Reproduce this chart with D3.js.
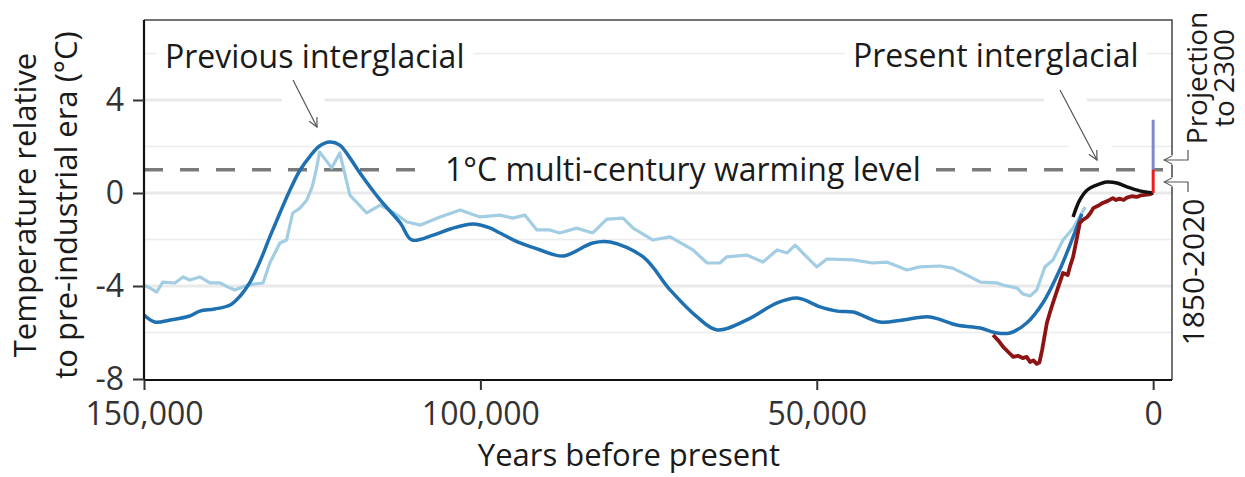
<!DOCTYPE html>
<html><head><meta charset="utf-8">
<script src="https://cdn.jsdelivr.net/npm/d3@7"></script>
<style>
html,body{margin:0;padding:0;background:#fff;}
svg{display:block;font-family:"Open Sans","Noto Sans",sans-serif;}
</style></head>
<body><svg id="c" width="1245" height="477"></svg>
<script>
// ---- data (years before present in thousands, temperature °C) ----
const blueKyr = [150.0,148.4,146.1,143.2,141.7,139.5,137.2,135.7,134.3,132.8,131.3,129.8,128.3,126.8,125.3,123.9,122.4,120.9,119.4,117.9,114.9,111.9,110.2,107.0,104.5,101.1,98.6,97.1,94.1,91.1,87.7,83.3,80.7,75.8,71.8,67.8,64.8,60.4,55.9,52.9,49.5,47.0,44.6,40.6,37.2,33.2,29.2,25.7,23.2,21.3,18.8,16.4,13.9,11.9,10.6];
const blueTemp = [-5.25,-5.55,-5.46,-5.29,-5.08,-4.99,-4.82,-4.43,-3.87,-2.97,-1.89,-0.86,0.13,0.99,1.59,2.02,2.19,2.06,1.51,0.86,-0.30,-1.29,-2.02,-1.81,-1.55,-1.33,-1.50,-1.72,-2.15,-2.45,-2.71,-2.15,-2.11,-2.75,-4.17,-5.33,-5.89,-5.46,-4.73,-4.52,-4.90,-5.08,-5.12,-5.55,-5.46,-5.33,-5.68,-5.81,-6.02,-6.02,-5.59,-4.73,-3.31,-1.89,-0.90];

const lightKyr = [150.0,149.1,148.1,147.2,145.4,144.2,143.2,141.7,140.2,138.7,137.2,136.5,135.0,133.5,132.3,131.3,129.8,128.8,127.9,126.8,125.8,125.0,124.4,123.9,122.1,120.9,119.4,116.9,114.9,113.0,110.9,108.9,106.0,103.0,100.1,97.1,95.2,93.4,91.6,89.7,88.2,85.7,83.3,81.2,78.8,77.3,74.4,71.8,68.4,66.3,64.4,63.4,60.4,58.0,55.9,54.4,53.2,51.5,50.0,48.5,44.6,41.7,39.6,36.6,34.7,31.7,29.8,27.7,25.7,23.2,22.3,20.2,19.4,18.3,17.3,16.1,14.9,13.4,11.9,10.1];
const lightTemp = [-3.96,-4.09,-4.26,-3.83,-3.87,-3.61,-3.74,-3.61,-3.87,-3.87,-4.09,-4.17,-4.00,-3.91,-3.87,-3.01,-2.15,-2.02,-0.86,-0.65,-0.30,0.26,0.99,1.76,1.08,1.72,-0.09,-0.86,-0.52,-0.82,-1.25,-1.38,-1.03,-0.73,-1.03,-0.95,-1.08,-0.95,-1.59,-1.59,-1.72,-1.51,-1.72,-1.12,-1.08,-1.51,-2.02,-1.89,-2.45,-3.01,-3.01,-2.75,-2.67,-2.97,-2.45,-2.58,-2.24,-2.75,-3.18,-2.84,-2.88,-3.01,-2.97,-3.31,-3.18,-3.14,-3.23,-3.53,-3.83,-3.87,-3.96,-4.09,-4.34,-4.43,-4.17,-3.18,-2.88,-2.02,-1.51,-0.60];

const redKyr = [23.8,23.0,22.3,21.5,20.8,20.1,19.4,18.8,18.3,17.8,17.3,16.9,16.5,15.8,15.3,14.9,14.4,13.9,13.4,12.7,12.3,11.9,11.3,10.9,10.4,9.8,9.3,8.9,8.2,7.5,6.8,6.0,5.5,5.0,4.4,3.9,3.2,2.4,1.8,1.2,0.6,0.0];
const redTemp = [-6.11,-6.35,-6.62,-6.85,-7.05,-7.00,-7.10,-7.05,-7.27,-7.20,-7.35,-7.28,-6.75,-5.59,-5.10,-4.73,-4.30,-3.87,-3.44,-3.53,-3.10,-2.75,-1.89,-1.29,-1.15,-1.03,-0.85,-0.65,-0.55,-0.43,-0.35,-0.22,-0.30,-0.24,-0.30,-0.20,-0.14,-0.17,-0.10,-0.08,-0.06,0.0];

const blackKyr = [11.9,10.9,9.8,8.4,6.9,5.4,3.9,2.0,0.0];
const blackTemp = [-1.03,-0.30,0.13,0.34,0.47,0.43,0.26,0.09,0.0];

const observedRange = [0, 1.0];     // 1850-2020
const projectionRange = [1.0, 3.15]; // projection to 2300
const warmingLevel = 1;

const yTicks = [4, 0, -4, -8];
const yMajorGrid = [4, 0, -4];
const yMinorGrid = [6, 2, -2, -6];
const xTicks = [150000, 100000, 50000, 0];

// ---- layout ----
const svg = d3.select("#c");
const L = 144, R = 1172, T = 20, B = 379;
const x = d3.scaleLinear().domain([150000, -2800]).range([L, R]);
const y = d3.scaleLinear().domain([-8, 7.44]).range([B, T]);

const toPts = (ks, ts) => ks.map((k, i) => [k * 1000, ts[i]]);

// gridlines
svg.append("g").selectAll("line").data(yMinorGrid).join("line")
  .attr("x1", L).attr("x2", R).attr("y1", d => y(d)).attr("y2", d => y(d))
  .attr("stroke", "#ececec").attr("stroke-width", 1.6);
svg.append("g").selectAll("line").data(yMajorGrid).join("line")
  .attr("x1", L).attr("x2", R).attr("y1", d => y(d)).attr("y2", d => y(d))
  .attr("stroke", "#e9e9e9").attr("stroke-width", 3);

// arrow halos (white) over gridlines
const arrows = [
  {x1: 293, y1: 80, x2: 317, y2: 127},
  {x1: 1060, y1: 90, x2: 1097, y2: 160}
];
svg.append("g").selectAll("line").data(arrows).join("line")
  .attr("x1", d => d.x1).attr("y1", d => d.y1).attr("x2", d => d.x2).attr("y2", d => d.y2)
  .attr("stroke", "#fff").attr("stroke-width", 38).attr("stroke-linecap", "butt");

// dashed warming level
svg.append("line")
  .attr("x1", L).attr("x2", 1163).attr("y1", y(warmingLevel)).attr("y2", y(warmingLevel))
  .attr("stroke", "#7a7a7a").attr("stroke-width", 3.5).attr("stroke-dasharray", "19,17");

// text boxes
function labelBox(tx, ty, text, size, pad) {
  const t = svg.append("text").attr("x", tx).attr("y", ty).attr("font-size", size)
    .attr("fill", "#1a1a1a").text(text);
  const bb = t.node().getBBox();
  svg.insert("rect", () => t.node())
    .attr("x", bb.x - pad).attr("y", bb.y + 2).attr("width", bb.width + 2 * pad).attr("height", bb.height - 4)
    .attr("fill", "#fff");
  return t;
}
labelBox(445, 181, "1°C multi-century warming level", 32, 13);
labelBox(165, 68, "Previous interglacial", 32, 9);
labelBox(853, 67, "Present interglacial", 32, 8);

// arrows
const defs = svg.append("defs");
defs.append("marker").attr("id", "ah").attr("viewBox", "0 0 10 10").attr("refX", 9).attr("refY", 5)
  .attr("markerWidth", 10).attr("markerHeight", 10).attr("markerUnits", "userSpaceOnUse").attr("orient", "auto")
  .append("path").attr("d", "M0,0.5 L9,5 L0,9.5").attr("fill", "none").attr("stroke", "#555").attr("stroke-width", 1.2);
svg.append("g").selectAll("line").data(arrows).join("line")
  .attr("x1", d => d.x1).attr("y1", d => d.y1).attr("x2", d => d.x2).attr("y2", d => d.y2)
  .attr("stroke", "#555").attr("stroke-width", 1.2).attr("marker-end", "url(#ah)");

// series
const line = d3.line().x(d => x(d[0])).y(d => y(d[1]));
svg.append("path").datum(toPts(lightKyr, lightTemp))
  .attr("d", line.curve(d3.curveLinear)).attr("fill", "none")
  .attr("stroke", "#a3cde3").attr("stroke-width", 3.2).attr("stroke-linejoin", "round");
svg.append("path").datum(toPts(blueKyr, blueTemp))
  .attr("d", d3.line().x(d => x(d[0])).y(d => y(d[1])).curve(d3.curveCatmullRom)).attr("fill", "none")
  .attr("stroke", "#1f70b0").attr("stroke-width", 3.5).attr("stroke-linejoin", "round");
svg.append("path").datum(toPts(redKyr, redTemp))
  .attr("d", d3.line().x(d => x(d[0])).y(d => y(d[1]))).attr("fill", "none")
  .attr("stroke", "#8e1414").attr("stroke-width", 3.8).attr("stroke-linejoin", "round");
svg.append("path").datum(toPts(blackKyr, blackTemp))
  .attr("d", d3.line().x(d => x(d[0])).y(d => y(d[1])).curve(d3.curveCatmullRom)).attr("fill", "none")
  .attr("stroke", "#111").attr("stroke-width", 3.5).attr("stroke-linejoin", "round");

// vertical bars at present
svg.append("line").attr("x1", x(0)).attr("x2", x(0))
  .attr("y1", y(projectionRange[0])).attr("y2", y(projectionRange[1]))
  .attr("stroke", "#8088d0").attr("stroke-width", 3);
svg.append("line").attr("x1", x(0)).attr("x2", x(0))
  .attr("y1", y(observedRange[0])).attr("y2", y(observedRange[1]))
  .attr("stroke", "#ee1c1c").attr("stroke-width", 3);

// panel border (top/right)
svg.append("path").attr("d", `M${L},${T}H${R}V${B + 1}`).attr("fill", "none")
  .attr("stroke", "#444").attr("stroke-width", 1.5);

// right small arrows
const sArrows = [{yy: 160, by: 150}, {yy: 182, by: 192}];
svg.append("g").selectAll("line").data(sArrows).join("line")
  .attr("x1", 1188).attr("x2", 1164).attr("y1", d => d.yy).attr("y2", d => d.yy)
  .attr("stroke", "#fff").attr("stroke-width", 9);
defs.append("marker").attr("id", "ah2").attr("viewBox", "0 0 10 10").attr("refX", 9).attr("refY", 5)
  .attr("markerWidth", 9).attr("markerHeight", 9).attr("markerUnits", "userSpaceOnUse").attr("orient", "auto")
  .append("path").attr("d", "M0,0.5 L9,5 L0,9.5").attr("fill", "none").attr("stroke", "#555").attr("stroke-width", 1.2);
svg.append("g").selectAll("path").data(sArrows).join("path")
  .attr("d", d => `M1188,${d.by}V${d.yy}H1164`)
  .attr("fill", "none").attr("stroke", "#555").attr("stroke-width", 1.2).attr("marker-end", "url(#ah2)");

// right rotated labels
const rt = svg.append("text").attr("transform", "translate(1207,78) rotate(-90)")
  .attr("text-anchor", "middle").attr("font-size", 28).attr("fill", "#1a1a1a");
rt.append("tspan").attr("x", 0).attr("y", 0).text("Projection");
rt.append("tspan").attr("x", 0).attr("y", 27).text("to 2300");
svg.append("text").attr("transform", "translate(1204,272) rotate(-90)")
  .attr("text-anchor", "middle").attr("font-size", 30).attr("fill", "#1a1a1a").text("1850-2020");

// axes
const yAxis = svg.append("g").attr("transform", `translate(${L},0)`)
  .call(d3.axisLeft(y).tickValues(yTicks).tickFormat(d => String(d)).tickSize(11).tickPadding(9));
const xAxis = svg.append("g").attr("transform", `translate(0,${B + 1})`)
  .call(d3.axisBottom(x).tickValues(xTicks).tickFormat(d3.format(",")).tickSize(10).tickPadding(12));
[yAxis, xAxis].forEach(a => {
  a.select(".domain").attr("stroke", "#111").attr("stroke-width", 2.2);
  a.selectAll(".tick line").attr("stroke", "#333").attr("stroke-width", 2);
  a.selectAll(".tick text").attr("font-size", 32).attr("fill", "#333").attr("font-family", "'Open Sans', sans-serif");
});
xAxis.select(".domain").attr("d", `M${L},0H${R}`);
yAxis.select(".domain").attr("d", `M0,${T}V${B + 1}`);

// axis titles
svg.append("text").attr("x", 629).attr("y", 466).attr("text-anchor", "middle")
  .attr("font-size", 31).attr("fill", "#1a1a1a").text("Years before present");
const yt = svg.append("text").attr("transform", "translate(36,205) rotate(-90)")
  .attr("text-anchor", "middle").attr("font-size", 31).attr("fill", "#1a1a1a");
yt.append("tspan").attr("x", 0).attr("y", 0).text("Temperature relative");
yt.append("tspan").attr("x", 0).attr("y", 41).text("to pre-industrial era (°C)");
</script></body></html>
